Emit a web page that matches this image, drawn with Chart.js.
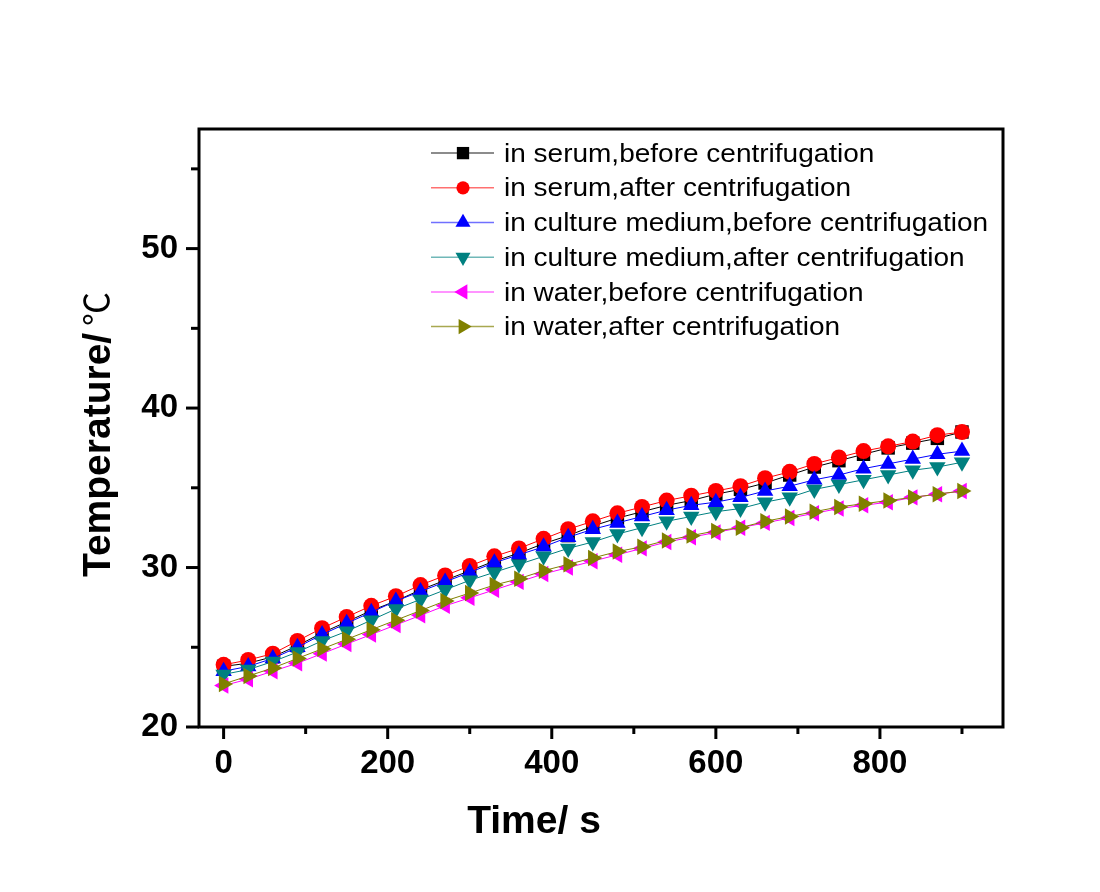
<!DOCTYPE html>
<html><head><meta charset="utf-8">
<script src="https://cdn.jsdelivr.net/npm/chart.js@4/dist/chart.umd.min.js"></script>
<style>html,body{margin:0;padding:0;background:#fff}#wrap{width:1100px;height:892px;position:relative}</style>
</head><body><div id="wrap"><canvas id="c" width="1100" height="892"></canvas></div>
<script>
const timeS = [0,30,60,90,120,150,180,210,240,270,300,330,360,390,420,450,480,510,540,570,600,630,660,690,720,750,780,810,840,870,900];
const serumBefore = [23.8,24.0,24.4,25.1,25.9,26.6,27.3,27.9,28.6,29.2,29.8,30.4,30.9,31.5,32.0,32.6,33.1,33.5,33.9,34.2,34.6,34.9,35.3,35.8,36.3,36.7,37.1,37.5,37.8,38.1,38.5];
const serumAfter = [23.9,24.2,24.6,25.4,26.2,26.9,27.6,28.2,28.9,29.5,30.1,30.7,31.2,31.8,32.4,32.9,33.4,33.8,34.2,34.5,34.8,35.1,35.6,36.0,36.5,36.9,37.3,37.6,37.9,38.3,38.5];
const mediumBefore = [23.5,23.8,24.3,25.0,25.8,26.5,27.2,27.9,28.5,29.1,29.7,30.3,30.8,31.3,31.9,32.4,32.8,33.2,33.6,33.9,34.1,34.4,34.8,35.1,35.5,35.8,36.2,36.5,36.8,37.1,37.3];
const mediumAfter = [23.3,23.6,24.1,24.7,25.4,26.0,26.7,27.4,28.0,28.6,29.2,29.7,30.2,30.7,31.2,31.6,32.1,32.5,32.9,33.2,33.5,33.7,34.1,34.4,34.9,35.2,35.5,35.8,36.1,36.3,36.6];
const waterBefore = [22.6,23.0,23.5,24.0,24.6,25.2,25.8,26.4,27.0,27.6,28.1,28.6,29.1,29.6,30.0,30.4,30.8,31.2,31.6,31.9,32.2,32.5,32.8,33.1,33.4,33.7,33.9,34.1,34.4,34.6,34.8];
const waterAfter = [22.7,23.2,23.7,24.3,24.9,25.5,26.1,26.7,27.3,27.9,28.4,28.9,29.3,29.8,30.2,30.6,31.0,31.3,31.7,32.0,32.3,32.5,32.9,33.2,33.5,33.8,34.0,34.2,34.4,34.6,34.8];
const seriesLabels = ["in serum,before centrifugation","in serum,after centrifugation","in culture medium,before centrifugation","in culture medium,after centrifugation","in water,before centrifugation","in water,after centrifugation"];
const xMajorTicks = [0,200,400,600,800];
const xMinorTicks = [100,300,500,700,900];
const yMajorTicks = [20,30,40,50];
const yMinorTicks = [25,35,45,55];
const xTitle = "Time/ s";
const yTitleMain = "Temperature/ ";
const yTitleUnit = "\u2103";

const seriesValues = [serumBefore, serumAfter, mediumBefore, mediumAfter, waterBefore, waterAfter];
const styles = [
  {color:'#000000', legendColor:'#666666', pointStyle:'rect', rotation:0, r:9.5, lr:8.7},
  {color:'#ff0000', legendColor:'#ff7070', pointStyle:'circle', rotation:0, r:8, lr:6.6},
  {color:'#0000ff', legendColor:'#7070ff', pointStyle:'triangle', rotation:0, r:9.5, lr:8.7},
  {color:'#008080', legendColor:'#70b8b8', pointStyle:'triangle', rotation:180, r:9.5, lr:8.7},
  {color:'#ff00ff', legendColor:'#ff70ff', pointStyle:'triangle', rotation:-90, r:9.5, lr:8.7},
  {color:'#808000', legendColor:'#a8a850', pointStyle:'triangle', rotation:90, r:9.5, lr:8.7}
];

const datasets = seriesValues.map((vals, i) => ({
  label: seriesLabels[i],
  data: timeS.map((t, k) => ({x: t, y: vals[k]})),
  borderColor: styles[i].color,
  backgroundColor: styles[i].color,
  pointBackgroundColor: styles[i].color,
  pointBorderWidth: 0,
  pointStyle: styles[i].pointStyle,
  pointRotation: styles[i].rotation,
  pointRadius: styles[i].r,
  borderWidth: 1,
  tension: 0,
  order: seriesValues.length - 1 - i
}));

const FONT = "'Liberation Sans', Arial, 'Noto Sans CJK SC', sans-serif";

function marker(ctx, style, radius, rotation, x, y) {
  if (Chart.helpers && Chart.helpers.drawPoint) {
    Chart.helpers.drawPoint(ctx, {pointStyle: style, radius: radius, rotation: rotation, borderWidth: 0}, x, y);
    return;
  }
  ctx.save(); ctx.translate(x, y); ctx.rotate(rotation * Math.PI / 180);
  ctx.beginPath();
  if (style === 'circle') ctx.arc(0, 0, radius, 0, Math.PI * 2);
  else if (style === 'rect') { const s = radius * Math.SQRT1_2; ctx.rect(-s, -s, 2 * s, 2 * s); }
  else { for (let k = 0; k < 3; k++) { const a = k * 2 * Math.PI / 3; const px = Math.sin(a) * radius, py = -Math.cos(a) * radius; k ? ctx.lineTo(px, py) : ctx.moveTo(px, py); } ctx.closePath(); }
  ctx.fill(); ctx.restore();
}

const framePlugin = {
  id: 'frame',
  afterDraw(chart) {
    const ctx = chart.ctx, a = chart.chartArea;
    const xs = chart.scales.x, ys = chart.scales.y;
    ctx.save();
    ctx.strokeStyle = '#000'; ctx.lineWidth = 3;
    ctx.strokeRect(a.left, a.top, a.right - a.left, a.bottom - a.top);
    ctx.lineCap = 'butt';
    const tick = (x1, y1, x2, y2) => { ctx.beginPath(); ctx.moveTo(x1, y1); ctx.lineTo(x2, y2); ctx.stroke(); };
    xMajorTicks.forEach(v => { const px = xs.getPixelForValue(v); tick(px, a.bottom, px, a.bottom + 12); });
    xMinorTicks.forEach(v => { const px = xs.getPixelForValue(v); tick(px, a.bottom, px, a.bottom + 7); });
    yMajorTicks.forEach(v => { const py = ys.getPixelForValue(v); tick(a.left, py, a.left - 13, py); });
    yMinorTicks.forEach(v => { const py = ys.getPixelForValue(v); tick(a.left, py, a.left - 8, py); });
    // axis titles
    ctx.fillStyle = '#000';
    ctx.font = "bold 39px " + FONT;
    ctx.textAlign = 'center'; ctx.textBaseline = 'alphabetic';
    ctx.fillText(xTitle, 534, 833);
    ctx.save();
    ctx.translate(110, 577); ctx.rotate(-Math.PI / 2);
    ctx.textAlign = 'left';
    ctx.font = "bold 39px " + FONT;
    ctx.fillText(yTitleMain, 0, 0);
    const w = ctx.measureText(yTitleMain).width;
    ctx.font = "34px 'Noto Sans CJK SC', 'DejaVu Sans', sans-serif";
    ctx.fillText(yTitleUnit, w - 4, -1);
    ctx.restore();
    // legend
    const lx1 = 431, lx2 = 494, mx = 463, tx = 504;
    ctx.font = "25px " + FONT;
    ctx.textAlign = 'left';
    chart.data.datasets.forEach((ds, i) => {
      const base = 161.7 + i * 34.7;
      const cy = base - 8.6;
      ctx.strokeStyle = styles[i].legendColor; ctx.lineWidth = 1.5;
      tick(lx1, cy, lx2, cy);
      ctx.fillStyle = ds.pointBackgroundColor;
      marker(ctx, ds.pointStyle, styles[i].lr, ds.pointRotation, mx, cy);
      ctx.fillStyle = '#000';
      ctx.save();
      ctx.translate(tx, base); ctx.scale(1.12, 1);
      ctx.fillText(ds.label, 0, 0);
      ctx.restore();
    });
    ctx.restore();
  }
};

new Chart(document.getElementById('c'), {
  type: 'line',
  data: { datasets },
  options: {
    responsive: false,
    animation: false,
    layout: { padding: { left: 0, top: 129, right: 97, bottom: 0 } },
    plugins: { legend: { display: false }, tooltip: { enabled: false } },
    scales: {
      x: {
        type: 'linear', min: -30, max: 950,
        afterBuildTicks: s => { s.ticks = xMajorTicks.map(v => ({value: v})); },
        afterFit: s => { s.height = 165; },
        grid: { display: true, drawOnChartArea: false, drawTicks: false },
        border: { display: false },
        ticks: { color: '#000', padding: 17, maxRotation: 0, font: { family: FONT, size: 33, weight: 'bold' } }
      },
      y: {
        type: 'linear', min: 20, max: 57.5,
        afterBuildTicks: s => { s.ticks = yMajorTicks.map(v => ({value: v})); },
        afterFit: s => { s.width = 199; },
        grid: { display: true, drawOnChartArea: false, drawTicks: false },
        border: { display: false },
        ticks: { color: '#000', padding: 21, font: { family: FONT, size: 33, weight: 'bold' } }
      }
    }
  },
  plugins: [framePlugin]
});
</script>
</body></html>
